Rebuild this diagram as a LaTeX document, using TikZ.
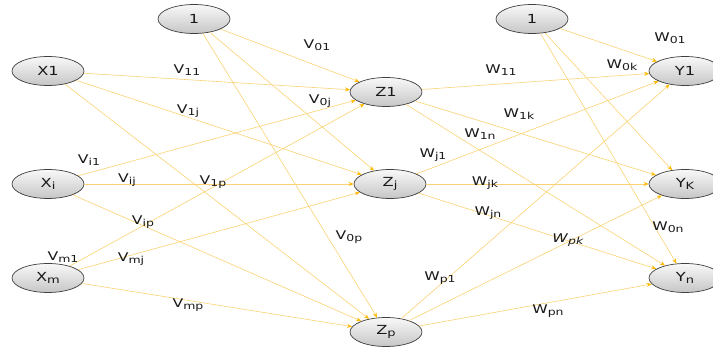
\documentclass[tikz,border=0pt]{standalone}
\usepackage{fontspec}
\setmainfont{DejaVu Sans}[FakeStretch=1.3]
\usetikzlibrary{arrows.meta,shapes.geometric}
\definecolor{linkcol}{RGB}{250,210,115}
\definecolor{tipcol}{RGB}{255,185,0}
\definecolor{txtcol}{RGB}{25,25,25}
\newcommand{\sbs}[1]{\raisebox{-0.3ex}{\scalebox{0.8}{#1}}}
\tikzset{
  neuron/.style={ellipse,draw=gray!50!black,line width=0.7pt,top color=gray!5,bottom color=gray!45,
    minimum width=72pt,minimum height=29pt,inner sep=0pt,text=txtcol,font=\fontsize{12.5}{12.5}\selectfont},
  link/.style={draw=linkcol,line width=0.6pt,
    -{Stealth[length=5pt,width=4pt,color=tipcol]}},
  wlabel/.style={font=\fontsize{12}{12}\selectfont,text=txtcol,inner sep=0pt}
}
\begin{document}
\begin{tikzpicture}[x=1pt,y=-1pt]
\clip (0,0) rectangle (713,351);
\useasboundingbox (0,0) rectangle (713,351);
\node[neuron] (b1) at (194,19) {1};
\node[neuron] (x1) at (48,71) {X1};
\node[neuron] (xi) at (48,184) {X\sbs{i}};
\node[neuron] (xm) at (48,278) {X\sbs{m}};
\node[neuron] (z1) at (386,92) {Z1};
\node[neuron] (zj) at (390,184) {Z\sbs{j}};
\node[neuron] (zp) at (386,332) {Z\sbs{p}};
\node[neuron] (b2) at (532,19) {1};
\node[neuron] (y1) at (685,71) {Y1};
\node[neuron] (yk) at (685,184) {Y\sbs{K}};
\node[neuron] (yn) at (685,278) {Y\sbs{n}};
\foreach \s in {b1,x1,xi,xm}{
  \foreach \t in {z1,zj,zp}{\draw[link] (\s) -- (\t);}}
\foreach \s in {z1,zj,zp,b2}{
  \foreach \t in {y1,yk,yn}{\draw[link] (\s) -- (\t);}}
\node[wlabel] (l1) at (317,45) {V\sbs{01}};
\node[wlabel] (l2) at (187,70) {V\sbs{11}};
\node[wlabel] (l3) at (320,101) {V\sbs{0j}};
\node[wlabel] (l4) at (188,111) {V\sbs{1j}};
\node[wlabel] (l5) at (89,160) {V\sbs{i1}};
\node[wlabel] (l6) at (127,180) {V\sbs{ij}};
\node[wlabel] (l7) at (213,182) {V\sbs{1p}};
\node[wlabel] (l8) at (143,222) {V\sbs{ip}};
\node[wlabel] (l9) at (349,237) {V\sbs{0p}};
\node[wlabel] (l10) at (63,257) {V\sbs{m1}};
\node[wlabel] (l11) at (131,259) {V\sbs{mj}};
\node[wlabel] (l12) at (188,305) {V\sbs{mp}};
\node[wlabel] (m1) at (670,38) {W\sbs{01}};
\node[wlabel] (m2) at (622,65) {W\sbs{0k}};
\node[wlabel] (m3) at (501,70) {W\sbs{11}};
\node[wlabel] (m4) at (519,114) {W\sbs{1k}};
\node[wlabel] (m5) at (480,134) {W\sbs{1n}};
\node[wlabel] (m6) at (433,155) {W\sbs{j1}};
\node[wlabel] (m7) at (485,183) {W\sbs{jk}};
\node[wlabel] (m8) at (488,213) {W\sbs{jn}};
\node[wlabel] (m9) at (568,240) {\textit{W}\sbs{\textit{pk}}};
\node[wlabel] (m10) at (668,227) {W\sbs{0n}};
\node[wlabel] (m11) at (440,278) {W\sbs{p1}};
\node[wlabel] (m12) at (548,311) {W\sbs{pn}};
\end{tikzpicture}
\end{document}
